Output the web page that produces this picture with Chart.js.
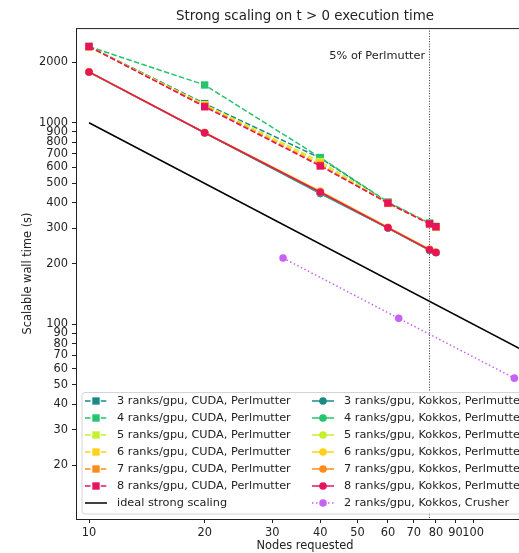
<!DOCTYPE html>
<html>
<head>
<meta charset="utf-8">
<script src="https://cdn.jsdelivr.net/npm/chart.js@4.4.1/dist/chart.umd.min.js"></script>
<style>
  html, body { margin: 0; padding: 0; background: #fff; overflow: hidden; width: 519px; height: 553px; }
  #wrap { position: relative; width: 560px; height: 553px; }
</style>
</head>
<body>
<div id="wrap"><canvas id="chart" width="560" height="553"></canvas></div>
<script>
// nodes requested for the Perlmutter runs
const nodes = [10, 20, 40, 60, 77, 80]

// CUDA build, scalable wall time (s)
const cuda3 = [2390, 1245, 668, 402, 316, 305]
const cuda4 = [2390, 1540, 672, 404, 318, 306]
const cuda5 = [2385, 1230, 642, 400, 316, 304]
const cuda6 = [2385, 1220, 628, 398, 315, 304]
const cuda7 = [2385, 1210, 616, 398, 315, 304]
const cuda8 = [2390, 1200, 610, 400, 315, 305]

// Kokkos build
const kokkos3 = [1785, 890, 445, 300, 233, 227]
const kokkos4 = [1786, 891, 448, 300, 233, 227]
const kokkos5 = [1787, 893, 456, 302, 235, 228]
const kokkos6 = [1788, 894, 458, 303, 236, 228]
const kokkos7 = [1787, 893, 454, 302, 235, 227]
const kokkos8 = [1787, 892, 452, 301, 234, 227]

// Crusher
const crusherNodes = [32, 64, 128]
const crusherTimes = [213, 107, 54]

// ideal strong scaling
const idealNodes = [10, 150]
const idealTimes = [1000, 66.7]

const perlmutter5pct = 76.8

const xTicks = [10, 20, 30, 40, 50, 60, 70, 80, 90, 100]
const yTicks = [20, 30, 40, 50, 60, 70, 80, 90, 100, 200, 300, 400, 500, 600, 700, 800, 900, 1000, 2000]

const colors = {
  3: '#1a8a86',
  4: '#25c46e',
  5: '#c6f02e',
  6: '#ffd21a',
  7: '#ff8c1a',
  8: '#e6135e'
}
const crusherColor = '#c663f2'
const textColor = '#222'
const FONT = '"DejaVu Sans", sans-serif'

function pts(xs, ys) {
  return xs.map((x, i) => ({ x: x, y: ys[i] }))
}

function cudaSeries(r, ys) {
  return {
    label: r + ' ranks/gpu, CUDA, Perlmutter',
    data: pts(nodes, ys),
    borderColor: colors[r],
    backgroundColor: colors[r],
    borderWidth: 1.5,
    borderDash: [5.5, 2.4],
    pointStyle: 'rect',
    pointRadius: 5.2,
    pointBorderWidth: 0
  }
}

function kokkosSeries(r, ys) {
  return {
    label: r + ' ranks/gpu, Kokkos, Perlmutter',
    data: pts(nodes, ys),
    borderColor: colors[r],
    backgroundColor: colors[r],
    borderWidth: 1.5,
    pointStyle: 'circle',
    pointRadius: 3.8,
    pointBorderWidth: 0
  }
}

const datasets = [
  cudaSeries(3, cuda3),
  cudaSeries(4, cuda4),
  cudaSeries(5, cuda5),
  cudaSeries(6, cuda6),
  cudaSeries(7, cuda7),
  cudaSeries(8, cuda8),
  {
    label: 'ideal strong scaling',
    data: pts(idealNodes, idealTimes),
    borderColor: '#000',
    backgroundColor: '#000',
    borderWidth: 1.5,
    pointRadius: 0
  },
  kokkosSeries(3, kokkos3),
  kokkosSeries(4, kokkos4),
  kokkosSeries(5, kokkos5),
  kokkosSeries(6, kokkos6),
  kokkosSeries(7, kokkos7),
  kokkosSeries(8, kokkos8),
  {
    label: '2 ranks/gpu, Kokkos, Crusher',
    data: pts(crusherNodes, crusherTimes),
    borderColor: crusherColor,
    backgroundColor: crusherColor,
    borderWidth: 1.5,
    borderDash: [1.5, 2.5],
    pointStyle: 'circle',
    pointRadius: 3.8,
    pointBorderWidth: 0
  }
]
// later series drawn on top, like matplotlib
datasets.forEach((d, i) => { d.order = -i })

function drawMarker(ctx, ds, x, y) {
  if (!ds.pointRadius) return
  ctx.fillStyle = ds.backgroundColor
  ctx.beginPath()
  if (ds.pointStyle === 'rect') {
    const s = ds.pointRadius * Math.SQRT1_2
    ctx.rect(x - s, y - s, 2 * s, 2 * s)
  } else {
    ctx.arc(x, y, ds.pointRadius, 0, Math.PI * 2)
  }
  ctx.fill()
}

const extras = {
  id: 'extras',
  beforeDatasetsDraw(chart) {
    const { ctx, chartArea: a, scales } = chart
    const vx = scales.x.getPixelForValue(perlmutter5pct)
    ctx.save()
    ctx.strokeStyle = '#333'
    ctx.lineWidth = 1
    ctx.setLineDash([1, 1.6])
    ctx.beginPath()
    ctx.moveTo(Math.round(vx) + 0.5, a.top)
    ctx.lineTo(Math.round(vx) + 0.5, a.bottom)
    ctx.stroke()
    ctx.setLineDash([])
    ctx.fillStyle = textColor
    ctx.font = '11.3px ' + FONT
    ctx.textAlign = 'right'
    ctx.textBaseline = 'middle'
    ctx.fillText('5% of Perlmutter', vx - 4, 56)
    ctx.restore()
  },
  afterDatasetsDraw(chart) {
    const { ctx, chartArea: a } = chart
    ctx.save()
    // top / right spines
    ctx.strokeStyle = textColor
    ctx.lineWidth = 1
    ctx.beginPath()
    ctx.moveTo(a.left, a.top + 0.5)
    ctx.lineTo(a.right, a.top + 0.5)
    ctx.moveTo(a.right - 0.5, a.top)
    ctx.lineTo(a.right - 0.5, a.bottom)
    ctx.stroke()

    // legend, two columns, lower left
    const bx = a.left + 5.5, by = 392
    const bw = 452, bh = 121.5
    ctx.fillStyle = 'rgba(255,255,255,0.85)'
    ctx.strokeStyle = '#d4d4d4'
    ctx.beginPath()
    ctx.roundRect(bx + 0.5, by + 0.5, bw, bh, 3)
    ctx.fill()
    ctx.stroke()

    const cols = [85, 312]
    const rowH = 17
    const y0 = 401
    ctx.font = '11.3px ' + FONT
    ctx.textBaseline = 'middle'
    ctx.textAlign = 'left'
    chart.data.datasets.forEach((ds, i) => {
      const col = i < 7 ? 0 : 1
      const row = i % 7
      const hx = cols[col]
      const hy = y0 + row * rowH
      ctx.strokeStyle = ds.borderColor
      ctx.lineWidth = ds.borderWidth
      ctx.setLineDash(ds.borderDash || [])
      ctx.beginPath()
      ctx.moveTo(hx, hy)
      ctx.lineTo(hx + 22, hy)
      ctx.stroke()
      ctx.setLineDash([])
      drawMarker(ctx, ds, hx + 11, hy)
      ctx.fillStyle = textColor
      ctx.fillText(ds.label, hx + 32, hy)
    })
    ctx.restore()
  }
}

new Chart(document.getElementById('chart'), {
  type: 'line',
  data: { datasets: datasets },
  options: {
    responsive: false,
    animation: false,
    layout: { padding: { left: 0, right: 26, top: 0, bottom: 0 } },
    plugins: {
      legend: { display: false },
      tooltip: { enabled: false },
      title: {
        display: true,
        fullSize: false,
        text: 'Strong scaling on t > 0 execution time',
        color: textColor,
        font: { family: FONT, size: 13.4, weight: 'normal' },
        padding: { top: 8, bottom: 4 }
      }
    },
    scales: {
      x: {
        type: 'logarithmic',
        min: 9.25,
        max: 144,
        bounds: 'data',
        afterFit: s => { s.height = 34 },
        afterBuildTicks: s => { s.ticks = xTicks.map(v => ({ value: v })) },
        ticks: {
          autoSkip: false,
          maxRotation: 0,
          padding: 3,
          color: textColor,
          font: { family: FONT, size: 11.4 },
          callback: v => String(v)
        },
        grid: { drawOnChartArea: false, tickLength: 4, color: textColor },
        border: { color: textColor, width: 1 },
        title: {
          display: true,
          text: 'Nodes requested',
          color: textColor,
          font: { family: FONT, size: 11.4 },
          padding: { top: 0, bottom: 0 }
        }
      },
      y: {
        type: 'logarithmic',
        min: 10.8,
        max: 2950,
        bounds: 'data',
        afterFit: s => { s.width = 76 },
        afterBuildTicks: s => { s.ticks = yTicks.map(v => ({ value: v })) },
        ticks: {
          autoSkip: false,
          padding: 4,
          color: textColor,
          font: { family: FONT, size: 11.4 },
          callback: v => String(v)
        },
        grid: { drawOnChartArea: false, tickLength: 4, color: textColor },
        border: { color: textColor, width: 1 },
        title: {
          display: true,
          text: 'Scalable wall time (s)',
          color: textColor,
          font: { family: FONT, size: 11.4 },
          padding: { top: 21, bottom: 0 }
        }
      }
    }
  },
  plugins: [extras]
})
</script>
</body>
</html>
